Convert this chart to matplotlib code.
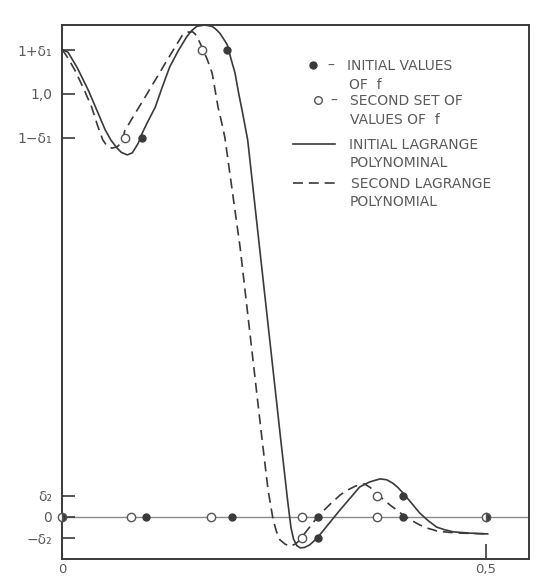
import numpy as np
import matplotlib.pyplot as plt
from matplotlib.lines import Line2D

# values (delta1 ~ 0.103, delta2 ~ 0.05)
D1 = 0.103
D2 = 0.05

solid_x = [0.0, 0.007, 0.018, 0.031, 0.041, 0.051, 0.058, 0.065, 0.070, 0.077,
           0.083, 0.090, 0.094, 0.100, 0.110, 0.118, 0.127, 0.137, 0.147, 0.153,
           0.159, 0.168, 0.177, 0.181, 0.186, 0.190, 0.195, 0.199, 0.204, 0.208,
           0.213, 0.219, 0.258, 0.266, 0.270, 0.273, 0.277, 0.281, 0.286, 0.292,
           0.297, 0.302, 0.315, 0.328, 0.340, 0.351, 0.363, 0.375, 0.383, 0.390,
           0.396, 0.402, 0.410, 0.422, 0.432, 0.442, 0.451, 0.461, 0.480, 0.502]
solid_y = [1.105, 1.099, 1.062, 1.009, 0.962, 0.915, 0.890, 0.872, 0.862, 0.856,
           0.861, 0.884, 0.905, 0.930, 0.969, 1.015, 1.064, 1.102, 1.135, 1.150,
           1.160, 1.163, 1.160, 1.154, 1.144, 1.132, 1.116, 1.085, 1.050, 1.005,
           0.955, 0.891, 0.182, 0.040, -0.025, -0.052, -0.068, -0.073, -0.072, -0.066,
           -0.057, -0.047, -0.015, 0.017, 0.045, 0.071, 0.083, 0.090, 0.088, 0.080,
           0.070, 0.057, 0.038, 0.009, -0.009, -0.024, -0.030, -0.035, -0.038, -0.040]

dash_x = [0.0, 0.003, 0.007, 0.015, 0.025, 0.035, 0.042, 0.048, 0.053, 0.059,
          0.065, 0.068, 0.072, 0.074, 0.085, 0.096, 0.110, 0.124, 0.133, 0.142,
          0.148, 0.154, 0.157, 0.160, 0.165, 0.171, 0.177, 0.184, 0.188, 0.192,
          0.210, 0.236, 0.243, 0.249, 0.253, 0.257, 0.263, 0.269, 0.275, 0.281,
          0.283, 0.292, 0.302, 0.315, 0.328, 0.337, 0.346, 0.352, 0.357, 0.364,
          0.371, 0.380, 0.387, 0.395, 0.402, 0.412, 0.422, 0.432, 0.442, 0.455,
          0.469, 0.485, 0.502]
dash_y = [1.105, 1.097, 1.085, 1.057, 1.015, 0.969, 0.925, 0.892, 0.877, 0.872,
          0.875, 0.881, 0.896, 0.913, 0.950, 0.986, 1.033, 1.080, 1.110, 1.139,
          1.146, 1.147, 1.142, 1.132, 1.111, 1.083, 1.050, 0.969, 0.935, 0.898,
          0.638, 0.182, 0.064, -0.007, -0.035, -0.054, -0.064, -0.069, -0.064, -0.054,
          -0.047, -0.024, 0.002, 0.028, 0.052, 0.064, 0.073, 0.077, 0.078, 0.069,
          0.054, 0.040, 0.028, 0.016, 0.005, -0.008, -0.019, -0.027, -0.033, -0.036,
          -0.038, -0.039, -0.040]

# initial values of f (filled) and second set (open)
init_x = [0.094, 0.195, 0.302, 0.402]
init_y = [1 - D1, 1 + D1, -D2, D2]
second_x = [0.074, 0.165, 0.283, 0.371]
second_y = [1 - D1, 1 + D1, -D2, D2]

# extremal frequencies marked on the zero line
init_zero_x = [0.099, 0.200, 0.302, 0.402]
second_zero_x = [0.081, 0.176, 0.283, 0.371]
end_x = [0.0, 0.5]

ytick_vals = [1 + D1, 1.0, 1 - D1, D2, 0.0, -D2]
ytick_labels = ["1+δ₁", "1,0", "1−δ₁", "δ₂", "0", "−δ₂"]
xtick_vals = [0.0, 0.5]
xtick_labels = ["0", "0,5"]

INK = "#3a3a3a"
TXT = "#5a5a5a"

W, H = 537, 577
fig = plt.figure(figsize=(W / 100, H / 100), dpi=100)
ax = fig.add_axes([62 / W, 1 - 559 / H, (529 - 62) / W, (559 - 25) / H])

ax.axhline(0, color="#8a8a8a", lw=1.0, zorder=1)
ax.plot(solid_x, solid_y, color=INK, lw=1.2, zorder=2, clip_on=False)
ax.plot(dash_x, dash_y, color=INK, lw=1.2, ls=(0, (6, 3.5)), zorder=2, clip_on=False)

ax.plot(init_x, init_y, "o", ms=5, mfc=INK, mec=INK, zorder=3)
ax.plot(second_x, second_y, "o", ms=6, mfc="white", mec="#555555", mew=1.0, zorder=3)
ax.plot(init_zero_x, [0] * len(init_zero_x), "o", ms=5, mfc=INK, mec=INK, zorder=3)
ax.plot(second_zero_x, [0] * len(second_zero_x), "o", ms=6, mfc="white",
        mec="#555555", mew=1.0, zorder=3)
ax.plot(end_x, [0, 0], "o", ms=6, fillstyle="right", mfc=INK, mfcalt="white",
        mec="#555555", mew=1.0, zorder=4, clip_on=False)

ax.set_xlim(0, (529 - 62) / 848)
ax.set_ylim((517 - 559) / 423, (517 - 25) / 423)

ax.set_yticks(ytick_vals)
ax.set_yticklabels(ytick_labels)
ax.set_xticks(xtick_vals)
ax.set_xticklabels(xtick_labels)
ax.tick_params(axis="y", direction="in", length=9, width=1.2, color=INK,
               labelsize=10, labelcolor=TXT, pad=7)
ax.tick_params(axis="x", direction="in", length=11, width=1.2, color=INK,
               labelsize=9.5, labelcolor=TXT, pad=3)

for s in ax.spines.values():
    s.set_color(INK)
    s.set_linewidth(1.4)

# legend drawn by hand, like the original figure
def fx(px):
    return px / W

def fy(py):
    return 1 - py / H

fs = 10
fig.add_artist(Line2D([fx(313)], [fy(65)], marker="o", ms=5, mfc=INK, mec=INK,
                      transform=fig.transFigure))
fig.text(fx(327), fy(66), "–", color=TXT, fontsize=fs, va="center")
fig.text(fx(347), fy(66), "INITIAL VALUES", color=TXT, fontsize=fs, va="center")
fig.text(fx(349), fy(85), "OF  f", color=TXT, fontsize=fs, va="center")

fig.add_artist(Line2D([fx(318)], [fy(100)], marker="o", ms=5.5, mfc="white",
                      mec="#555555", mew=1.0, transform=fig.transFigure))
fig.text(fx(330), fy(101), "–", color=TXT, fontsize=fs, va="center")
fig.text(fx(350), fy(101), "SECOND SET OF", color=TXT, fontsize=fs, va="center")
fig.text(fx(350), fy(120), "VALUES OF  f", color=TXT, fontsize=fs, va="center")

fig.add_artist(Line2D([fx(293), fx(335)], [fy(144), fy(144)], color=INK, lw=1.2,
                      transform=fig.transFigure))
fig.text(fx(349), fy(145), "INITIAL LAGRANGE", color=TXT, fontsize=fs, va="center")
fig.text(fx(350), fy(163), "POLYNOMINAL", color=TXT, fontsize=fs, va="center")

fig.add_artist(Line2D([fx(293), fx(337)], [fy(183), fy(183)], color=INK, lw=1.2,
                      ls=(0, (6, 3.5)), transform=fig.transFigure))
fig.text(fx(351), fy(184), "SECOND LAGRANGE", color=TXT, fontsize=fs, va="center")
fig.text(fx(350), fy(202), "POLYNOMIAL", color=TXT, fontsize=fs, va="center")

fig.savefig("out.png", dpi=100, facecolor="white")
